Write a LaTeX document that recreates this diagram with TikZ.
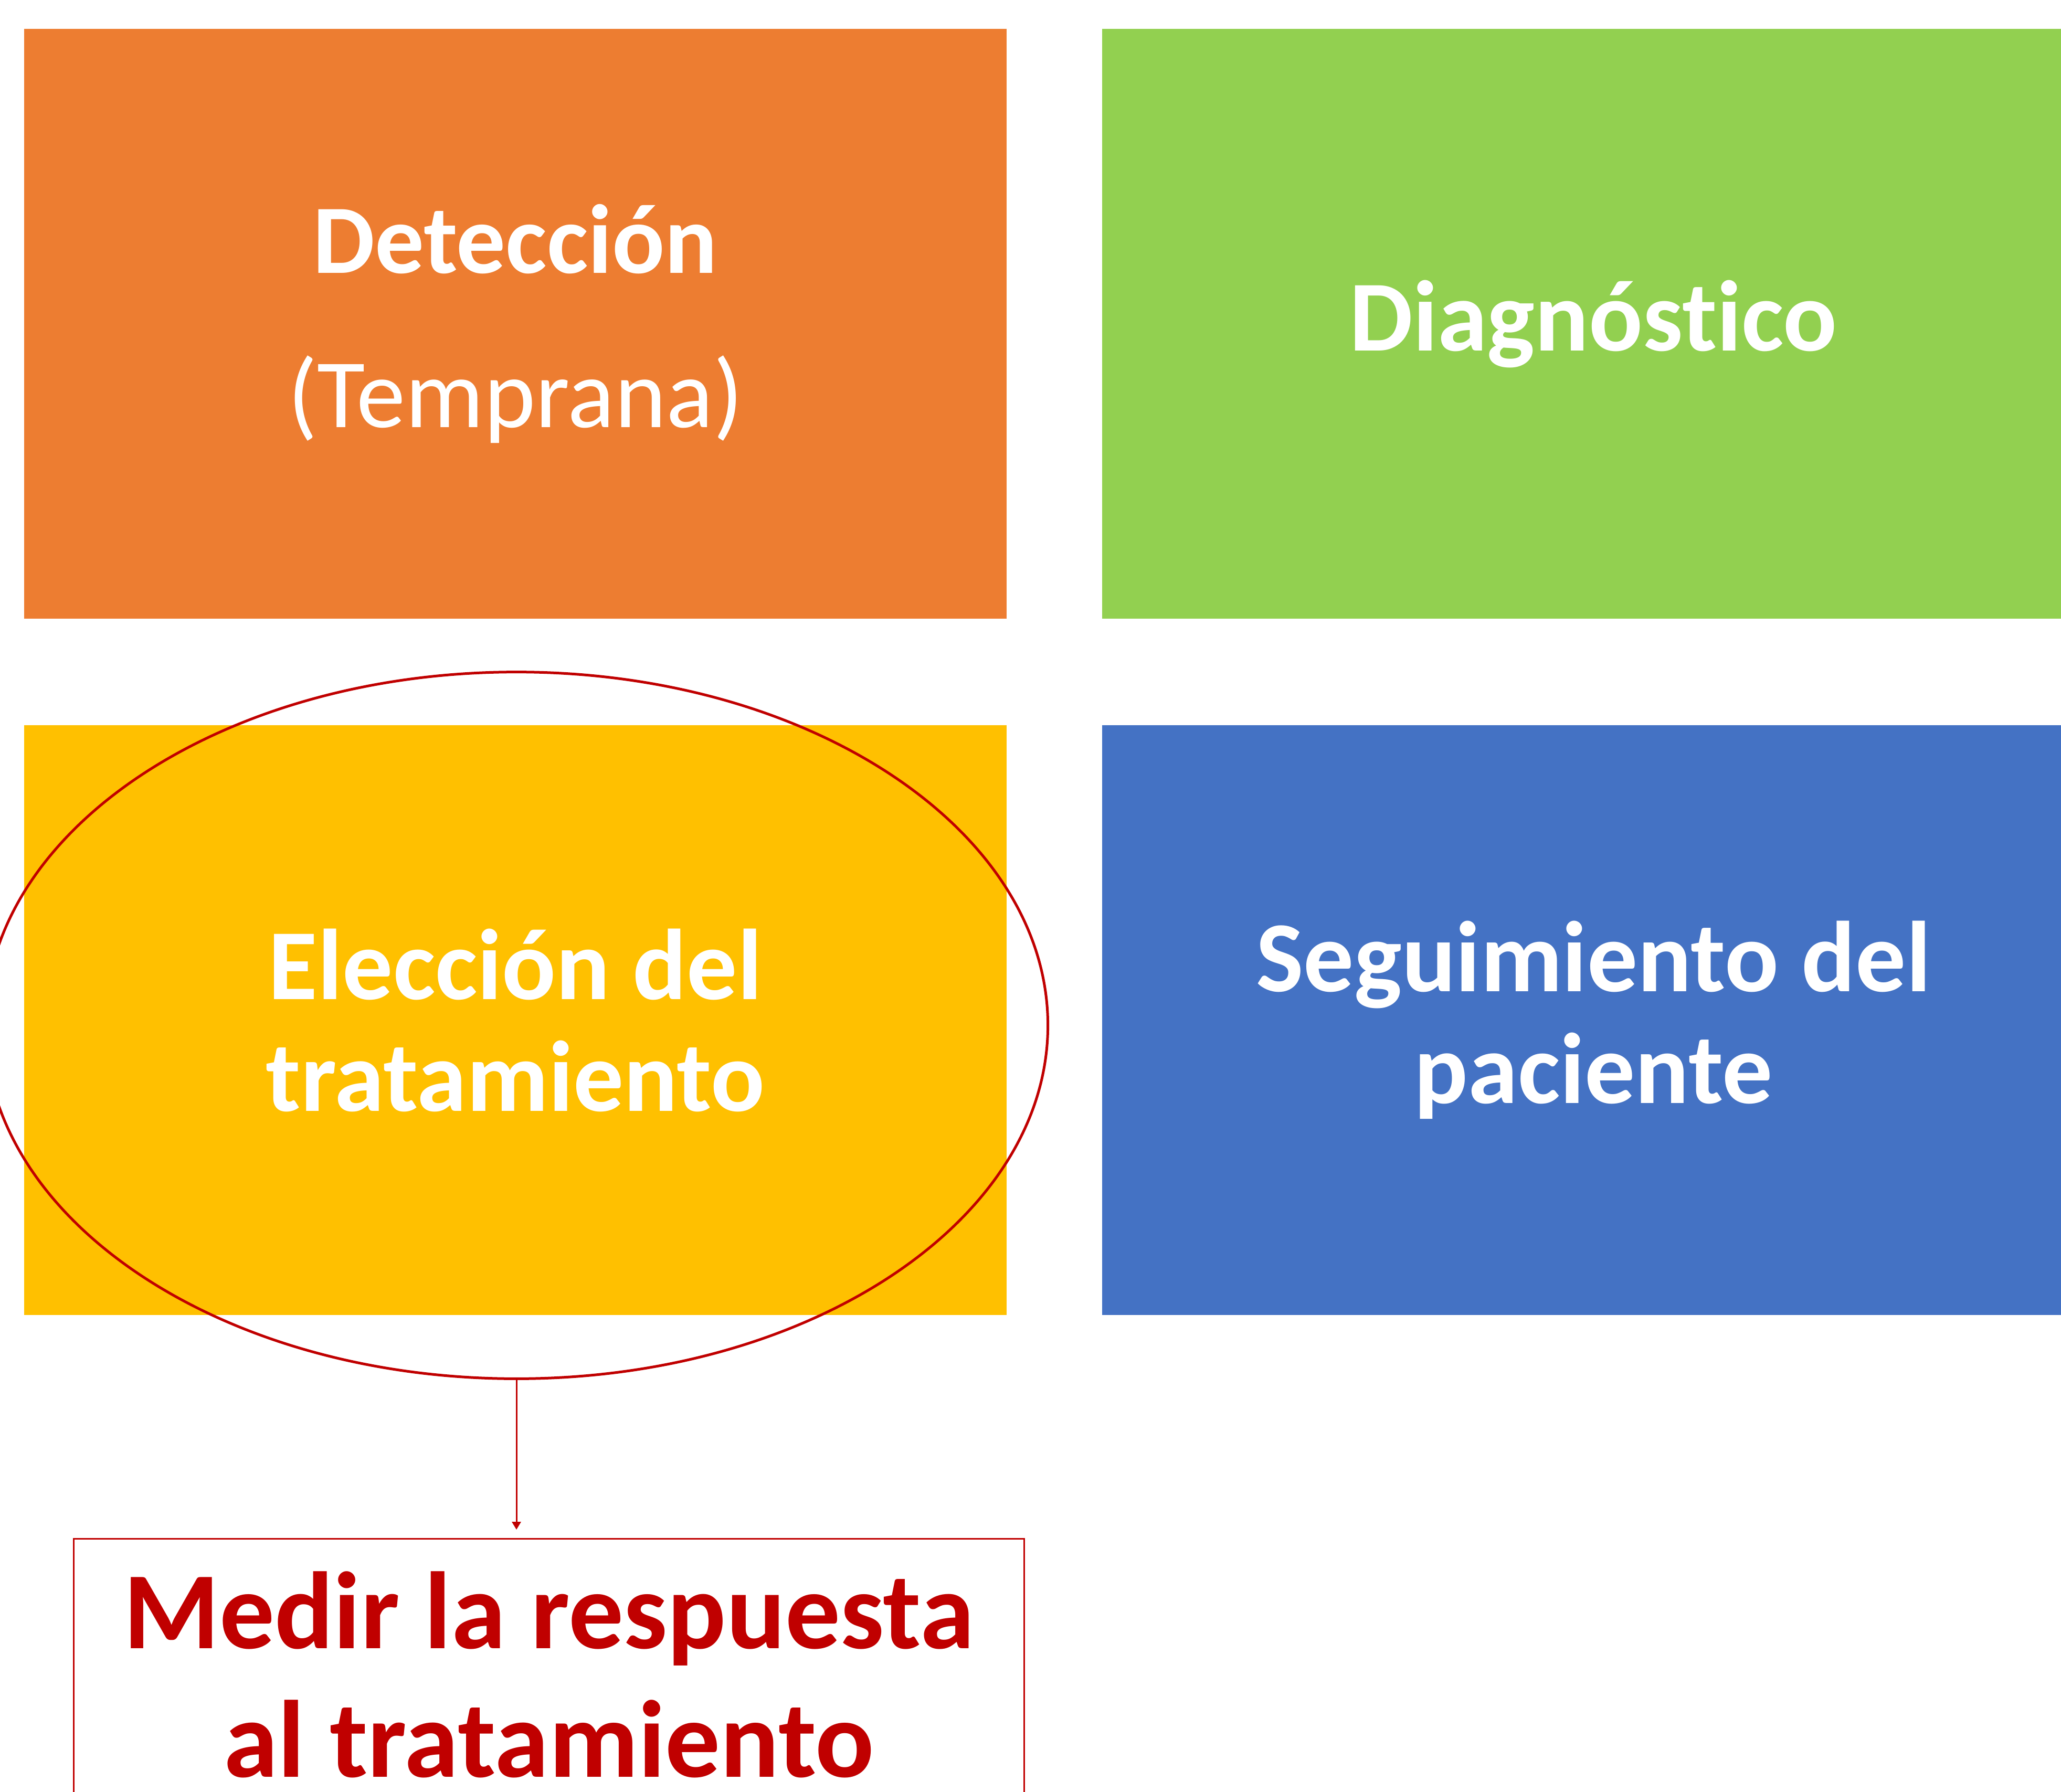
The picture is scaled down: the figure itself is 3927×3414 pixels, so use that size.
\documentclass[tikz,border=0pt]{standalone}
\usepackage{fontspec}
\setmainfont[Ligatures={NoCommon}]{Carlito}
\usetikzlibrary{shapes.geometric,arrows.meta}
\definecolor{naranja}{HTML}{ED7D31}
\definecolor{verde}{HTML}{92D050}
\definecolor{amarillo}{HTML}{FFC000}
\definecolor{azul}{HTML}{4472C4}
\definecolor{rojo}{HTML}{C00000}
\begin{document}
\begin{tikzpicture}[x=0.01cm, y=-0.01cm,
  etapa/.style={rectangle,minimum width=18.7cm,minimum height=11.24cm,inner sep=0pt,text=white,align=center,font=\bfseries\fontsize{54.5}{60.6}\selectfont},
  marca/.style={draw=rojo,line width=0.05cm,ellipse,minimum width=20.24cm,minimum height=13.46cm,inner sep=0pt},
  medida/.style={draw=rojo,line width=0.03cm,text=rojo,minimum width=18.09cm,inner ysep=0.62cm,align=center,font=\bfseries\fontsize{59.5}{69.7}\selectfont}]
\useasboundingbox (0,0) rectangle (3927,3414);
\clip (0,0) rectangle (3927,3414);
\begin{scope}
\node[etapa,fill=naranja,font=\bfseries\fontsize{53.2}{83.4}\selectfont] (det) at (982,617) {Detección\\{\mdseries (Temprana)}};%1
\node[etapa,fill=verde] (diag) at (3036,617) {Diagnóstico};%2
\node[etapa,fill=amarillo] (elec) at (982,1944) {Elección del\\tratamiento};%3
\node[etapa,fill=azul] (seg) at (3036,1944) {Seguimiento del\\paciente};%4
\end{scope}
\begin{scope}
\node[marca] (sel) at (984,1954) {};
\node[medida,anchor=north] (medir) at (1046,2931) {Medir la respuesta\\al tratamiento};
\draw[rojo,line width=0.03cm,-{Triangle[width=0.17cm,length=0.15cm]},shorten >=0.16cm] (sel.south) -- (sel.south |- medir.north);
\end{scope}
\end{tikzpicture}
\end{document}
